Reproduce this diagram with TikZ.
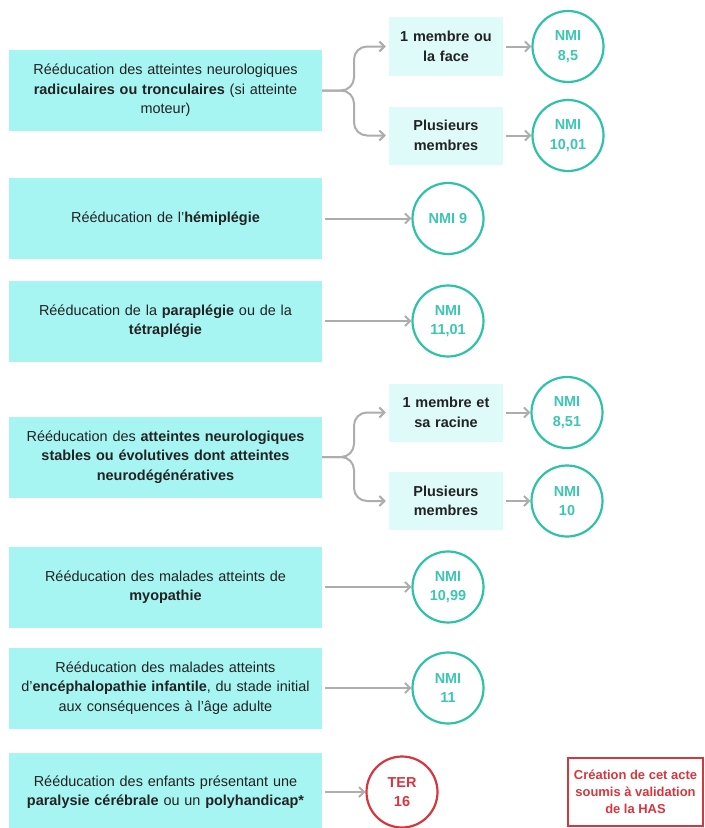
\documentclass[tikz,border=0pt]{standalone}
\usepackage{fontspec}
\setmainfont{Liberation Sans}
\usetikzlibrary{arrows.meta}
\definecolor{boxcyan}{HTML}{A7F5F2}
\definecolor{boxlight}{HTML}{DEFAF9}
\definecolor{tealc}{HTML}{2EC3A8}
\definecolor{tealt}{HTML}{3DC6B2}
\definecolor{redc}{HTML}{D8363E}
\definecolor{arrgray}{HTML}{ADADAD}
\definecolor{txt}{HTML}{222222}
\begin{document}
\begin{tikzpicture}[x=1bp,y=-1bp,
  bigbox/.style={fill=boxcyan,draw=none,minimum width=313bp,minimum height=81bp,inner sep=0pt,
    text width=300bp,align=center,text=txt,font=\fontsize{14.5}{19.5}\selectfont},
  smallbox/.style={fill=boxlight,draw=none,minimum width=114bp,minimum height=58bp,inner sep=0pt,
    text width=110bp,align=center,text=txt,font=\fontsize{14.5}{19.5}\selectfont\bfseries},
  nmi/.style={circle,draw=tealc,line width=2.2bp,minimum size=71bp,inner sep=0pt,align=center,
    text=tealt,font=\fontsize{14.5}{19.5}\selectfont\bfseries},
  ter/.style={circle,draw=redc,line width=2.2bp,minimum size=71bp,inner sep=0pt,align=center,
    text=redc,font=\fontsize{14.5}{19.5}\selectfont\bfseries},
  note/.style={draw=redc,line width=1.8bp,minimum width=135bp,minimum height=68bp,inner sep=0pt,
    align=center,text=redc,font=\fontsize{13}{17}\selectfont\bfseries},
  arr/.style={draw=arrgray,line width=2bp,-{Straight Barb[length=5bp,width=10bp]}},
  brace/.style={draw=arrgray,line width=2bp,rounded corners=13bp,-{Straight Barb[length=5bp,width=10bp]}}
]
\useasboundingbox (0,0) rectangle (705,828);
\fill[white] (0,0) rectangle (705,828);

% Row 1
\node[bigbox] (b1) at (165.5,90.5) {Rééducation des atteintes neurologiques\\\textbf{radiculaires ou tronculaires} (si atteinte\\moteur)};
\node[smallbox] (s1a) at (446,46.5) {1 membre ou\\la face};
\node[smallbox] (s1b) at (446,135.5) {Plusieurs\\membres};
\node[nmi] (c1a) at (568,46.5) {NMI\\8,5};
\node[nmi] (c1b) at (568,135.5) {NMI\\10,01};
\coordinate (k1) at (354,90.5);
\draw[brace] (b1.east) -- (k1) -- (354,46.5) -- ([xshift=-3bp]s1a.west);
\draw[brace] (b1.east) -- (k1) -- (354,135.5) -- ([xshift=-3bp]s1b.west);
\draw[arr] ([xshift=3bp]s1a.east) -- (c1a.west);
\draw[arr] ([xshift=3bp]s1b.east) -- (c1b.west);

% Row 2
\node[bigbox] (b2) at (165.5,218.5) {Rééducation de l’\textbf{hémiplégie}};
\node[nmi] (c2) at (448,218.5) {NMI 9};
\draw[arr] ([xshift=3bp]b2.east) -- (c2.west);

% Row 3
\node[bigbox] (b3) at (165.5,321) {Rééducation de la \textbf{paraplégie} ou de la\\\textbf{tétraplégie}};
\node[nmi] (c3) at (448,321) {NMI\\11,01};
\draw[arr] ([xshift=3bp]b3.east) -- (c3.west);

% Row 4
\node[bigbox] (b4) at (165.5,457) {Rééducation des \textbf{atteintes neurologiques}\\\textbf{stables ou évolutives dont atteintes}\\\textbf{neurodégénératives}};
\node[smallbox] (s4a) at (446,412.5) {1 membre et\\sa racine};
\node[smallbox] (s4b) at (446,501) {Plusieurs\\membres};
\node[nmi] (c4a) at (567,412.5) {NMI\\8,51};
\node[nmi] (c4b) at (567,501) {NMI\\10};
\coordinate (k4) at (354,457);
\draw[brace] (b4.east) -- (k4) -- (354,412.5) -- ([xshift=-3bp]s4a.west);
\draw[brace] (b4.east) -- (k4) -- (354,501) -- ([xshift=-3bp]s4b.west);
\draw[arr] ([xshift=3bp]s4a.east) -- (c4a.west);
\draw[arr] ([xshift=3bp]s4b.east) -- (c4b.west);

% Row 5
\node[bigbox] (b5) at (165.5,587) {Rééducation des malades atteints de\\\textbf{myopathie}};
\node[nmi] (c5) at (448,587) {NMI\\10,99};
\draw[arr] ([xshift=3bp]b5.east) -- (c5.west);

% Row 6
\node[bigbox] (b6) at (165.5,688) {Rééducation des malades atteints\\d’\textbf{encéphalopathie infantile}, du stade initial\\aux conséquences à l’âge adulte};
\node[nmi] (c6) at (448,688) {NMI\\11};
\draw[arr] ([xshift=3bp]b6.east) -- (c6.west);

% Row 7
\node[bigbox,minimum height=78bp] (b7) at (165.5,792) {Rééducation des enfants présentant une\\\textbf{paralysie cérébrale} ou un \textbf{polyhandicap*}};
\node[ter] (c7) at (402,792) {TER\\16};
\draw[arr] ([xshift=3bp]b7.east) -- (c7.west);

\node[note] (n7) at (635.5,792) {Création de cet acte\\soumis à validation\\de la HAS};
\end{tikzpicture}
\end{document}
